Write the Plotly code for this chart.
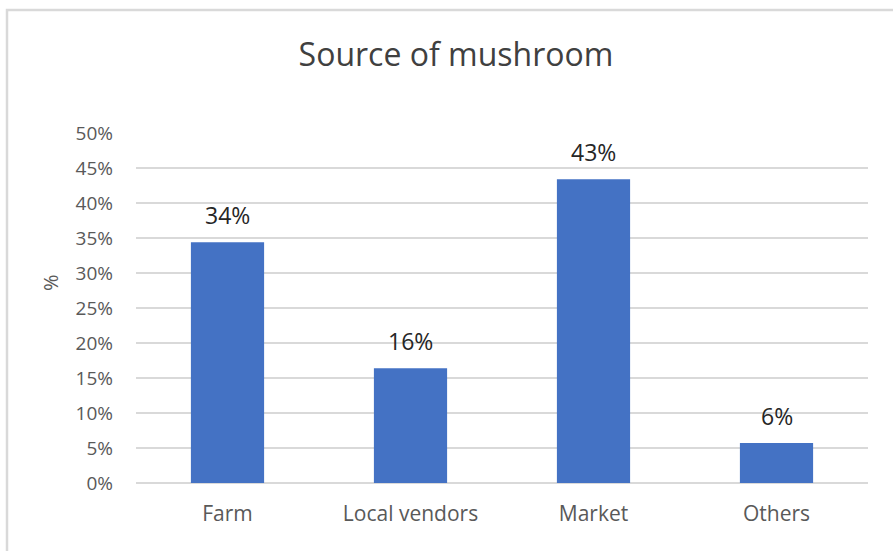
import plotly.graph_objects as go

# Share of respondents by where they obtain mushrooms
categories = ["Farm", "Local vendors", "Market", "Others"]
shares = [0.344, 0.164, 0.434, 0.057]
y_ticks = [0, 0.05, 0.10, 0.15, 0.20, 0.25, 0.30, 0.35, 0.40, 0.45, 0.50]

W, H = 893, 551
L, R, T, B = 136, 25, 133, 68
pw, ph = W - L - R, H - T - B

font_family = "Open Sans, Noto Sans, DejaVu Sans, sans-serif"
bar_color = "#4472C4"
grid_color = "#d9d9d9"
text_color = "#595959"

fig = go.Figure(
    go.Bar(
        x=categories,
        y=shares,
        marker=dict(color=bar_color, line=dict(width=0)),
        hoverinfo="skip",
    )
)

# value labels sitting above each bar
for cat, val in zip(categories, shares):
    fig.add_annotation(
        x=cat, y=val, text=f"{val:.0%}", showarrow=False,
        yanchor="middle", yshift=27,
        font=dict(family=font_family, size=23, color="#262626"),
    )

# rotated y-axis caption
fig.add_annotation(
    xref="paper", yref="paper",
    x=(50 - L) / pw, y=(T + ph - 283) / ph,
    text="%", textangle=-90, showarrow=False,
    xanchor="center", yanchor="middle",
    font=dict(family=font_family, size=20, color=text_color),
)

# light frame around the chart area
fig.add_shape(
    type="rect", xref="paper", yref="paper",
    x0=(7 - L) / pw, x1=(W + 20 - L) / pw,
    y0=(T + ph - (H + 20)) / ph, y1=(T + ph - 10) / ph,
    line=dict(color=grid_color, width=2.5), fillcolor="rgba(0,0,0,0)",
    layer="below",
)

fig.update_layout(
    width=W, height=H,
    margin=dict(l=L, r=R, t=T, b=B),
    paper_bgcolor="white", plot_bgcolor="white",
    bargap=0.6,
    showlegend=False,
    title=dict(
        text="Source of mushroom",
        x=456 / W, xanchor="center",
        y=1 - 55 / H, yanchor="middle", yref="container",
        font=dict(family=font_family, size=32, color="#404040"),
    ),
    xaxis=dict(
        showgrid=False, showline=False, ticks="",
        tickfont=dict(family=font_family, size=21, color=text_color),
        ticklabelstandoff=16,
    ),
    yaxis=dict(
        range=[0, 0.5],
        tickvals=y_ticks,
        tickformat=".0%",
        showgrid=True, gridcolor=grid_color, gridwidth=1.5,
        zeroline=True, zerolinecolor=grid_color, zerolinewidth=1.5,
        showline=False, ticks="",
        ticklabelstandoff=22,
        tickfont=dict(family=font_family, size=19, color=text_color),
    ),
)

fig.write_html("out.html")
